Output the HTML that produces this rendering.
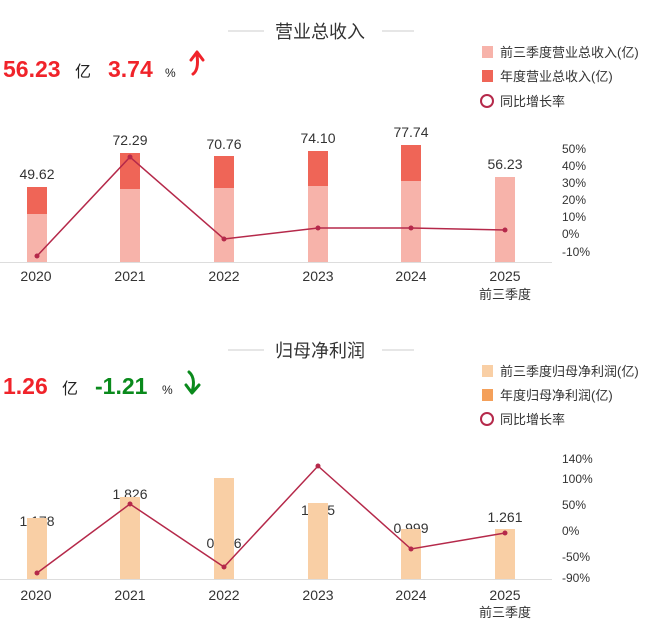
<!DOCTYPE html>
<html><head><meta charset="utf-8"><style>
body{margin:0;background:#fff}
svg{display:block;font-family:"Liberation Sans","Noto Sans CJK SC",sans-serif}
</style></head><body>
<svg width="649" height="639" viewBox="0 0 649 639" xmlns="http://www.w3.org/2000/svg">
<line x1="228" y1="31" x2="264" y2="31" stroke="#ccc"/>
<line x1="382" y1="31" x2="414" y2="31" stroke="#ccc"/>
<text x="320" y="38" font-size="18" fill="#333" text-anchor="middle">营业总收入</text>
<text x="3" y="77" font-size="23" font-weight="bold" fill="#f0232a">56.23</text>
<text x="75" y="77" font-size="16" fill="#222">亿</text>
<text x="108" y="77" font-size="23" font-weight="bold" fill="#f0232a">3.74</text>
<text x="165" y="77" font-size="12" fill="#222">%</text>
<path d="M193 74 Q199 70 197 55 M191 60 L197 52 L203 60" stroke="#f0232a" stroke-width="3" fill="none" stroke-linecap="round" stroke-linejoin="round"/>
<rect x="482" y="46" width="11" height="12" fill="#f7b3aa"/>
<text x="500" y="57" font-size="13" fill="#333">前三季度营业总收入(亿)</text>
<rect x="482" y="70" width="11" height="12" fill="#ef6557"/>
<text x="500" y="81" font-size="13" fill="#333">年度营业总收入(亿)</text>
<circle cx="487" cy="101" r="6" fill="none" stroke="#b5294a" stroke-width="2"/>
<text x="500" y="106" font-size="13" fill="#333">同比增长率</text>
<g font-size="14" fill="#333" text-anchor="middle">
<text x="37" y="179">49.62</text><text x="130" y="145">72.29</text><text x="224" y="149">70.76</text>
<text x="318" y="143">74.10</text><text x="411" y="137">77.74</text><text x="505" y="169">56.23</text>
</g>
<g>
<rect x="27" y="187" width="20" height="75" fill="#ef6557"/><rect x="27" y="214" width="20" height="48" fill="#f7b3aa"/>
<rect x="120" y="153" width="20" height="109" fill="#ef6557"/><rect x="120" y="189" width="20" height="73" fill="#f7b3aa"/>
<rect x="214" y="156" width="20" height="106" fill="#ef6557"/><rect x="214" y="188" width="20" height="74" fill="#f7b3aa"/>
<rect x="308" y="151" width="20" height="111" fill="#ef6557"/><rect x="308" y="186" width="20" height="76" fill="#f7b3aa"/>
<rect x="401" y="145" width="20" height="117" fill="#ef6557"/><rect x="401" y="181" width="20" height="81" fill="#f7b3aa"/>
<rect x="495" y="177" width="20" height="85" fill="#f7b3aa"/>
</g>
<line x1="0" y1="262.5" x2="552" y2="262.5" stroke="#ddd"/>
<polyline points="37,256 130,157 224,239 318,228 411,228 505,230" fill="none" stroke="#b5294a" stroke-width="1.5"/>
<g fill="#b5294a"><circle cx="37" cy="256" r="2.5"/><circle cx="130" cy="157" r="2.5"/><circle cx="224" cy="239" r="2.5"/><circle cx="318" cy="228" r="2.5"/><circle cx="411" cy="228" r="2.5"/><circle cx="505" cy="230" r="2.5"/></g>
<g font-size="12" fill="#333">
<text x="562" y="153">50%</text><text x="562" y="170">40%</text><text x="562" y="187">30%</text><text x="562" y="204">20%</text><text x="562" y="221">10%</text><text x="562" y="238">0%</text><text x="562" y="256">-10%</text>
</g>
<g font-size="14" fill="#333" text-anchor="middle">
<text x="36" y="281">2020</text><text x="130" y="281">2021</text><text x="224" y="281">2022</text><text x="318" y="281">2023</text><text x="411" y="281">2024</text><text x="505" y="281">2025</text>
<text x="505" y="299" font-size="13">前三季度</text>
</g>
<line x1="228" y1="350" x2="264" y2="350" stroke="#ccc"/>
<line x1="382" y1="350" x2="414" y2="350" stroke="#ccc"/>
<text x="320" y="357" font-size="18" fill="#333" text-anchor="middle">归母净利润</text>
<text x="3" y="394" font-size="23" font-weight="bold" fill="#f0232a">1.26</text>
<text x="62" y="394" font-size="16" fill="#222">亿</text>
<text x="95" y="394" font-size="23" font-weight="bold" fill="#0a8a1c">-1.21</text>
<text x="162" y="394" font-size="12" fill="#222">%</text>
<path d="M189 372 Q196 378 192 392 M186 385 L192 393 L199 385" stroke="#0a8a1c" stroke-width="3" fill="none" stroke-linecap="round" stroke-linejoin="round"/>
<rect x="482" y="365" width="11" height="12" fill="#f9cfa5"/>
<text x="500" y="376" font-size="13" fill="#333">前三季度归母净利润(亿)</text>
<rect x="482" y="389" width="11" height="12" fill="#f4a05a"/>
<text x="500" y="400" font-size="13" fill="#333">年度归母净利润(亿)</text>
<circle cx="487" cy="419" r="6" fill="none" stroke="#b5294a" stroke-width="2"/>
<text x="500" y="424" font-size="13" fill="#333">同比增长率</text>
<g font-size="14" fill="#333" text-anchor="middle">
<text x="37" y="526">1.178</text><text x="130" y="499">1.826</text><text x="224" y="548">0.976</text>
<text x="318" y="515">1.115</text><text x="411" y="533">0.999</text><text x="505" y="522">1.261</text>
</g>
<g fill="#f9cfa5">
<rect x="27" y="518" width="20" height="61"/><rect x="120" y="497" width="20" height="82"/>
<rect x="214" y="478" width="20" height="101"/><rect x="308" y="503" width="20" height="76"/>
<rect x="401" y="529" width="20" height="50"/><rect x="495" y="529" width="20" height="50"/>
</g>
<line x1="0" y1="579.5" x2="552" y2="579.5" stroke="#ddd"/>
<polyline points="37,573 130,504 224,567 318,466 411,549 505,533" fill="none" stroke="#b5294a" stroke-width="1.5"/>
<g fill="#b5294a"><circle cx="37" cy="573" r="2.5"/><circle cx="130" cy="504" r="2.5"/><circle cx="224" cy="567" r="2.5"/><circle cx="318" cy="466" r="2.5"/><circle cx="411" cy="549" r="2.5"/><circle cx="505" cy="533" r="2.5"/></g>
<g font-size="12" fill="#333">
<text x="562" y="463">140%</text><text x="562" y="483">100%</text><text x="562" y="509">50%</text><text x="562" y="535">0%</text><text x="562" y="561">-50%</text><text x="562" y="582">-90%</text>
</g>
<g font-size="14" fill="#333" text-anchor="middle">
<text x="36" y="600">2020</text><text x="130" y="600">2021</text><text x="224" y="600">2022</text><text x="318" y="600">2023</text><text x="411" y="600">2024</text><text x="505" y="600">2025</text>
<text x="505" y="617" font-size="13">前三季度</text>
</g>
</svg>
</body></html>
